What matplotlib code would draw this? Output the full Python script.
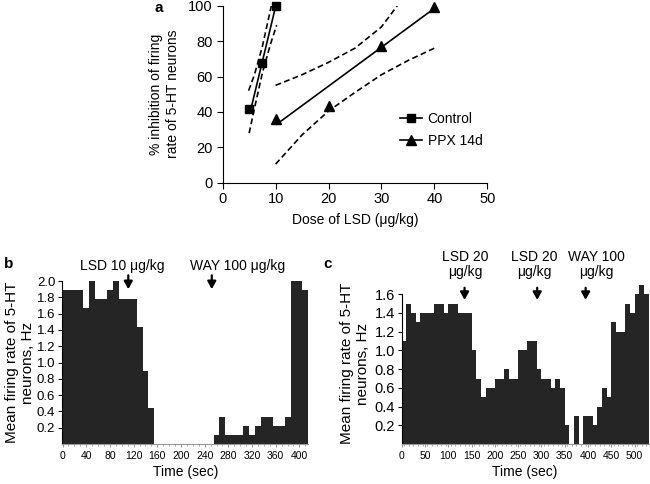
import matplotlib
matplotlib.use("Agg")
import matplotlib.pyplot as plt
import numpy as np

plt.rcParams['font.family'] = ['Liberation Sans', 'DejaVu Sans']

# ---- panel a: dose-response ----
ctrl_dose = [5, 7.5, 10]
ctrl_inhib = [41.5, 67.5, 100]
ctrl_fit_x = [5.2, 10]
ctrl_fit_y = [40, 99.5]
ctrl_up_x = [4.9, 6, 7.5, 9.2]
ctrl_up_y = [52, 61, 77, 100]
ctrl_lo_x = [5, 6, 7.5, 9, 10.2]
ctrl_lo_y = [28, 42, 62, 78, 89]

ppx_dose = [10, 20, 30, 40]
ppx_inhib = [36, 43.5, 77, 99.5]
ppx_fit_x = [10.2, 40]
ppx_fit_y = [33, 98.5]
ppx_up_x = [10, 15, 20, 25, 30, 33]
ppx_up_y = [55, 61, 68, 76, 88, 100]
ppx_lo_x = [10, 15, 20, 25, 30, 35, 40]
ppx_lo_y = [10.5, 27, 40.5, 51, 61, 69, 76]

# ---- panel b: firing rate, LSD 10 then WAY 100 (10 s bins) ----
time_b = np.arange(0, 420, 10)
rate_b = [1.89, 1.89, 1.89, 1.89, 1.67, 2.0, 1.78, 1.78, 1.89, 2.0,
          1.78, 1.78, 1.78, 1.44, 0.89, 0.44, 0, 0, 0, 0,
          0, 0, 0, 0, 0, 0, 0.11, 0.33, 0.11, 0.11,
          0.11, 0.22, 0.11, 0.22, 0.33, 0.33, 0.22, 0.22, 0.33, 2.0,
          2.0, 1.89]
arrows_b = [111, 252]
labels_b = ['LSD 10 μg/kg', 'WAY 100 μg/kg']
label_x_b = [101, 295]

# ---- panel c: LSD 20, LSD 20, WAY 100 (10 s bins) ----
time_c = np.arange(0, 530, 10)
rate_c = [1.1, 1.5, 1.4, 1.3, 1.4, 1.4, 1.4, 1.5, 1.5, 1.4,
          1.5, 1.5, 1.4, 1.4, 1.4, 1.0, 0.7, 0.5, 0.6, 0.6,
          0.7, 0.7, 0.8, 0.7, 0.7, 1.0, 1.0, 1.1, 1.1, 0.8,
          0.7, 0.7, 0.6, 0.7, 0.6, 0.2, 0, 0.3, 0, 0.3,
          0.3, 0.2, 0.4, 0.6, 0.5, 1.3, 1.2, 1.2, 1.5, 1.4,
          1.6, 1.7, 1.6]
arrows_c = [135, 291, 395]
labels_c = ['LSD 20\nμg/kg', 'LSD 20\nμg/kg', 'WAY 100\nμg/kg']
label_x_c = [136, 284, 418]

bar_col = '#252525'

fig = plt.figure(figsize=(6.5, 4.84), dpi=100)

'''
panel a
'''
ax = fig.add_axes([0.3426, 0.6225, 0.407, 0.3657])
ax.plot(ctrl_fit_x, ctrl_fit_y, 'k-', lw=1.2)
ax.plot(ctrl_up_x, ctrl_up_y, 'k--', lw=1.2, dashes=(3.5, 2))
ax.plot(ctrl_lo_x, ctrl_lo_y, 'k--', lw=1.2, dashes=(3.5, 2))
ax.plot(ppx_fit_x, ppx_fit_y, 'k-', lw=1.2)
ax.plot(ppx_up_x, ppx_up_y, 'k--', lw=1.2, dashes=(3.5, 2))
ax.plot(ppx_lo_x, ppx_lo_y, 'k--', lw=1.2, dashes=(3.5, 2))
ax.plot(ctrl_dose, ctrl_inhib, 'ks', ms=5.5, clip_on=False, zorder=5)
ax.plot(ppx_dose, ppx_inhib, 'k^', ms=6.5, clip_on=False, zorder=5)
h1, = ax.plot([], [], 'k-s', ms=5.5, lw=1.2)
h2, = ax.plot([], [], 'k-^', ms=6.5, lw=1.2)
ax.legend([h1, h2], ['Control', 'PPX 14d'], loc='upper left',
          bbox_to_anchor=(0.67, 0.40), frameon=False, fontsize=10,
          handlelength=1.6, handletextpad=0.4, labelspacing=0.6,
          borderpad=0, borderaxespad=0)
ax.set_xlim(0, 50)
ax.set_ylim(0, 100)
ax.set_xticks(range(0, 51, 10))
ax.set_yticks(range(0, 101, 20))
for s in ['top', 'right']:
    ax.spines[s].set_visible(False)
ax.tick_params(labelsize=10.5, length=4, direction='out', pad=3)
ax.set_xlabel('Dose of LSD (μg/kg)', fontsize=10, labelpad=5)
ax.set_ylabel('% inhibition of firing\nrate of 5-HT neurons', fontsize=10,
              labelpad=6, linespacing=1.3)
fig.text(0.238, 0.998, 'a', fontsize=11, fontweight='bold', ha='left', va='top')


def firing_panel(ax, t, r, ymax, yticks, arrows, labels, label_x, xticks,
                 arrow_y, text_y, ylab_pad, ytick_size):
    ax.bar(t, r, width=10, color=bar_col, linewidth=0, align='center')
    ax.set_ylim(0, ymax)
    ax.set_yticks(yticks)
    ax.set_yticklabels(['%.1f' % v for v in yticks])
    ax.set_xticks(xticks)
    ax.set_xticklabels([str(v) for v in xticks])
    ax.set_xticks(t, minor=True)
    for s in ['top', 'right']:
        ax.spines[s].set_visible(False)
    ax.spines['bottom'].set_color('#999999')
    ax.spines['bottom'].set_linewidth(0.8)
    ax.spines['left'].set_linewidth(0.8)
    ax.tick_params(axis='y', labelsize=ytick_size, length=3, pad=2)
    ax.tick_params(axis='x', labelsize=7.5, length=2, color='#999999', pad=3)
    ax.tick_params(axis='x', which='minor', length=1.5, color='#999999')
    ax.set_xlabel('Time (sec)', fontsize=10, labelpad=3)
    ax.set_ylabel('Mean firing rate of 5-HT\nneurons, Hz', fontsize=11,
                  labelpad=ylab_pad, linespacing=1.2)
    for xa in arrows:
        ax.annotate('', xy=(xa, arrow_y[1]), xytext=(xa, arrow_y[0]),
                    arrowprops=dict(arrowstyle='-|>,head_length=0.45,head_width=0.25',
                                    color='k', lw=1.6, shrinkA=0, shrinkB=0),
                    annotation_clip=False)
    for xl, lab in zip(label_x, labels):
        ax.text(xl, text_y, lab, ha='center', va='bottom', fontsize=10,
                linespacing=1.15, clip_on=False)


'''
panel b
'''
axb = fig.add_axes([0.0958, 0.0826, 0.3785, 0.3368])
firing_panel(axb, time_b, rate_b, 2.0, np.round(np.arange(0.2, 2.01, 0.2), 1),
             arrows_b, labels_b, label_x_b, list(range(0, 401, 40)),
             (2.07, 1.9), 2.1, 1, 9.5)
axb.set_xlim(-0.5, 415)
fig.text(0.006, 0.468, 'b', fontsize=11, fontweight='bold', ha='left', va='top')

'''
panel c
'''
axc = fig.add_axes([0.618, 0.0826, 0.3797, 0.3326])
firing_panel(axc, time_c + 5, rate_c, 1.72, np.round(np.arange(0.2, 1.61, 0.2), 1),
             arrows_c, labels_c, label_x_c, list(range(0, 501, 50)),
             (1.67, 1.54), 1.76, 3, 10.5)
axc.set_xlim(0, 530)
axc.spines['left'].set_bounds(0, 1.6)
fig.text(0.498, 0.468, 'c', fontsize=11, fontweight='bold', ha='left', va='top')

fig.savefig('out.png', dpi=100)
